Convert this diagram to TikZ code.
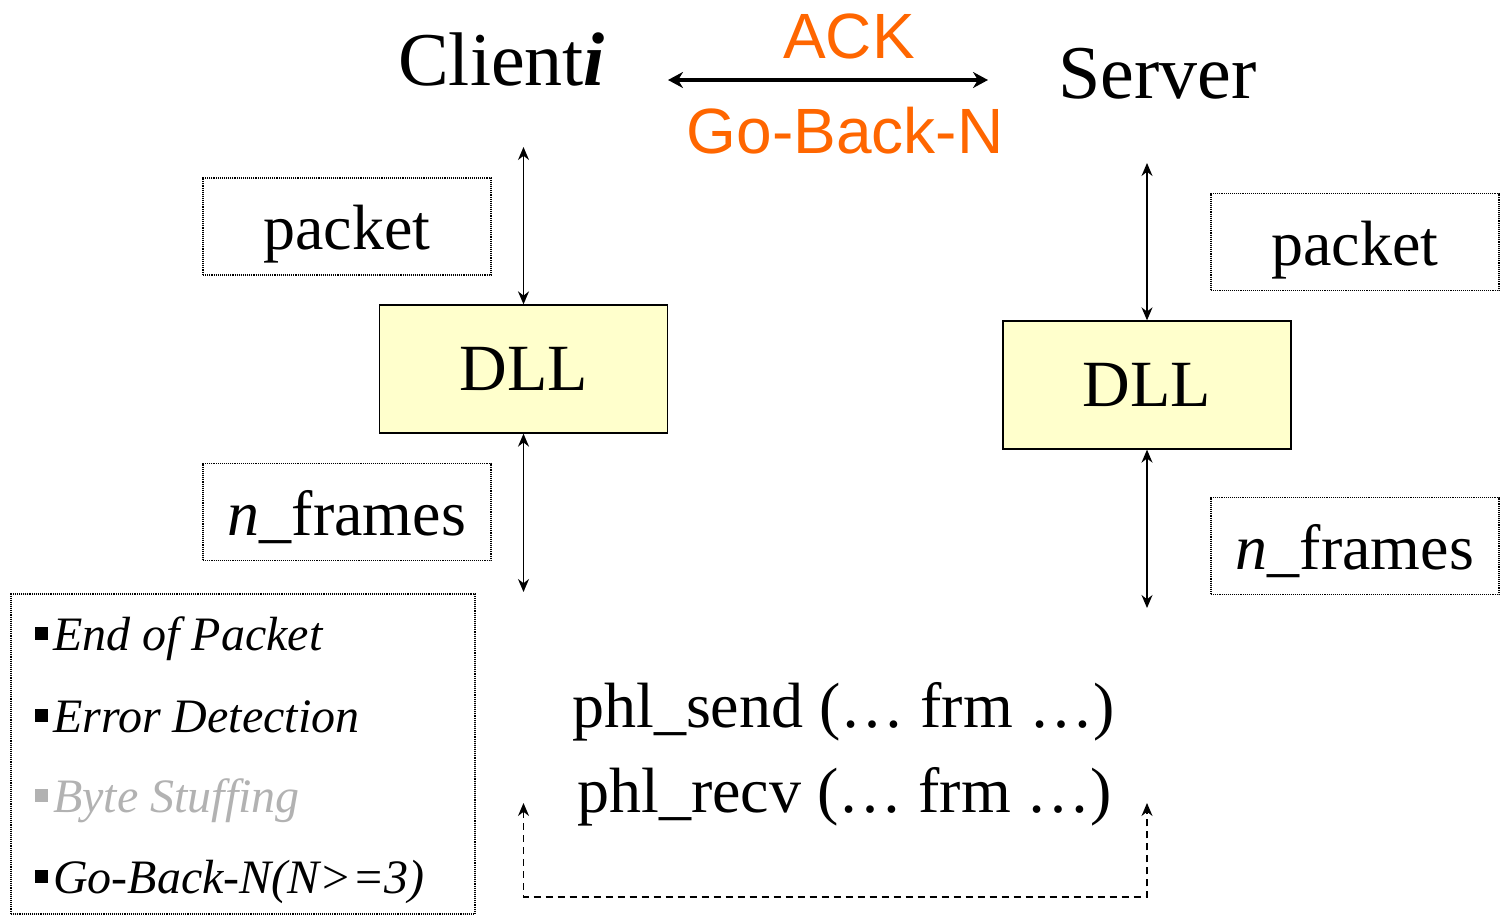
\documentclass[tikz,border=0pt]{standalone}
\usepackage{fontspec}
\setmainfont{Liberation Serif}
\setsansfont{Liberation Sans}
\usetikzlibrary{arrows.meta}
\definecolor{ack}{HTML}{FF6600}
\definecolor{dllfill}{HTML}{FFFFCC}
\definecolor{faded}{HTML}{B2B2B2}

\begin{document}
\begin{tikzpicture}[x=1pt,y=-1pt,
  host/.style={anchor=base west,inner sep=0pt,font=\fontsize{76}{80}\selectfont},
  proto/.style={anchor=base,text=ack,inner sep=0pt,font=\sffamily\fontsize{64}{70}\selectfont},
  databox/.style={draw,densely dotted,line width=1.1pt,minimum width=288pt,minimum height=97pt,font=\fontsize{64}{70}\selectfont,text height=46pt,text depth=0pt},
  dll/.style={draw,fill=dllfill,line width=1.3pt,minimum width=288pt,minimum height=128pt,font=\fontsize{66}{70}\selectfont},
  updown/.style={{Stealth[length=13pt,width=11pt]}-{Stealth[length=13pt,width=11pt]},line width=1.5pt},
  item/.style={anchor=base west,inner sep=0pt,font=\itshape\fontsize{48}{52}\selectfont},
  call/.style={anchor=base west,inner sep=0pt,font=\fontsize{64}{70}\selectfont}]
\useasboundingbox (0,0) rectangle (1501,916);
% hosts and link protocol
\node[host] (client) at (398,85){Client\textbf{\textit{i}}};
\node[host] (server) at (1058,98){Server};
\node[proto] (ack) at (849,58){ACK};
\node[proto] (gbn) at (845,153){Go-Back-N};
\coordinate (ackl) at (668,80);\coordinate (ackr) at (988,80);
\draw[{Stealth[length=15pt,width=16pt]}-{Stealth[length=15pt,width=16pt]},line width=3.5pt] (ackl)--(ackr);
% client side
\node[databox] (cpkt) at (347,226.5){packet};
\node[dll] (cdll) at (523.5,369){DLL};
\node[databox] (cfrm) at (347,512){\textit{n}\_frames};
\coordinate (ctop) at (523.5,147);\coordinate (cbot) at (523.5,592);
\draw[updown] (ctop)--(cdll);\draw[updown] (cdll)--(cbot);
% server side
\node[databox] (spkt) at (1355,242){packet};
\node[dll] (sdll) at (1147,385){DLL};
\node[databox] (sfrm) at (1355,546){\textit{n}\_frames};
\coordinate (stop) at (1147,163);\coordinate (sbot) at (1147,608);
\draw[updown] (stop)--(sdll);\draw[updown] (sdll)--(sbot);
% requirements
\node[draw,densely dotted,line width=1.1pt,minimum width=464pt,minimum height=320pt] (req) at (243,754){};
\node[item] (eop) at (35,650){\rule[10pt]{13pt}{13pt}\hspace{5pt}End of Packet};
\node[item] (err) at (35,732){\rule[10pt]{13pt}{13pt}\hspace{5pt}Error Detection};
\node[item,text=faded] (bst) at (35,812){\rule[10pt]{13pt}{13pt}\hspace{5pt}Byte Stuffing};
\node[item] (gbk) at (35,893){\rule[10pt]{13pt}{13pt}\hspace{5pt}Go-Back-N(N>=3)};
% physical layer calls
\node[call] (send) at (572,727){phl\_send (… frm …)};
\node[call] (recv) at (577,812){phl\_recv (… frm …)};
\coordinate (cl) at (523.5,803);\coordinate (sr) at (1147,803);\coordinate (wire) at (835,897);
\draw[dashed,dash pattern=on 7pt off 5pt,line width=1.5pt,{Stealth[length=13pt,width=11pt]}-{Stealth[length=13pt,width=11pt]}] (cl)|-(wire)-|(sr);
\end{tikzpicture}
\end{document}
